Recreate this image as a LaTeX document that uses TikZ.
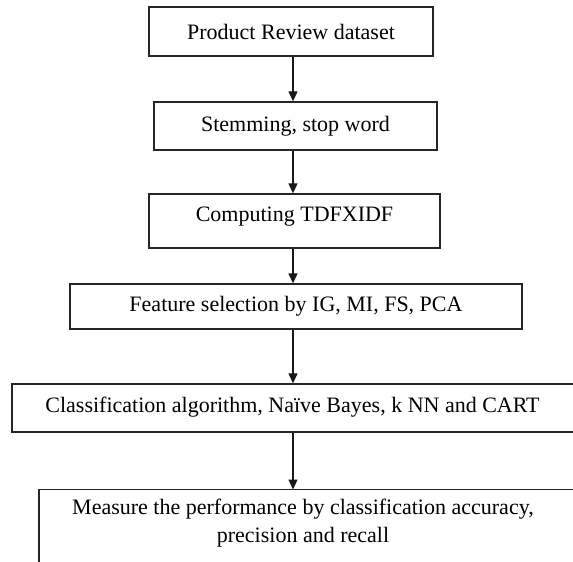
\documentclass[tikz,border=0pt]{standalone}
\usepackage{fontspec}
\setmainfont{Liberation Serif}
\usetikzlibrary{arrows.meta}
\begin{document}
\begin{tikzpicture}[x=1pt,y=1pt,
  boxline/.style={draw=black!85, line width=1.3pt},
  box/.style={boxline, rectangle, inner sep=0pt, align=center,
    font=\fontsize{22}{28}\selectfont},
  txt/.style={inner sep=0pt, align=center, font=\fontsize{22}{28}\selectfont},
  arr/.style={draw=black!90, line width=1.2pt, -{Triangle[width=9pt,length=10pt]}}]
\useasboundingbox (0,0) rectangle (573,-562);
\fill[white] (0,0) rectangle (573,-562);
\begin{scope}
\clip (0,0) rectangle (573,-562);
\coordinate (ax) at (293,0);
\node[box, minimum width=284pt, minimum height=49pt] (b1) at (291,-31.5) {Product Review dataset};
\node[box, minimum width=283pt, minimum height=48pt] (b2) at (295.5,-126) {Stemming, stop word};
\node[box, minimum width=291pt, minimum height=54pt] (b3) at (294.5,-221) {};
\node[txt] (t3) at (294.5,-217) {Computing TDFXIDF};
\node[box, minimum width=452pt, minimum height=45pt] (b4) at (296,-306.5) {Feature selection by IG, MI, FS, PCA};
\node[box, minimum width=568pt, minimum height=48pt] (b5) at (296,-408) {};
\node[txt] (t5) at (292.5,-407) {Classification algorithm, Naïve Bayes, k NN and CART};
\node[rectangle, inner sep=0pt, minimum width=545pt, minimum height=80pt, anchor=north west] (b6) at (39,-489.5) {};
\draw[boxline] (b6.south west) -- (b6.north west) -- (b6.north east);
\node[txt] (t6) at (303,-523) {Measure the performance by classification accuracy,\\precision and recall};
\draw[arr] (b1.south -| ax) -- (b2.north -| ax);
\draw[arr] (b2.south -| ax) -- (b3.north -| ax);
\draw[arr] (b3.south -| ax) -- (b4.north -| ax);
\draw[arr] (b4.south -| ax) -- (b5.north -| ax);
\draw[arr] (b5.south -| ax) -- (b6.north -| ax);
\end{scope}
\end{tikzpicture}
\end{document}
